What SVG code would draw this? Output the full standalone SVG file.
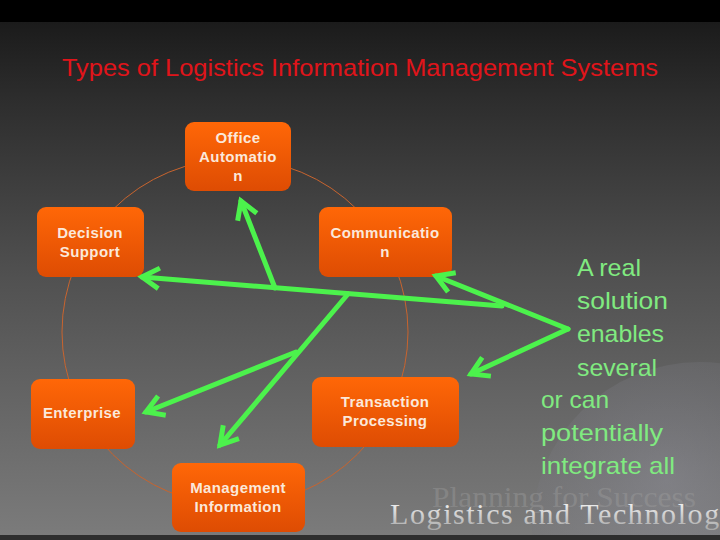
<svg xmlns="http://www.w3.org/2000/svg" width="720" height="540" viewBox="0 0 720 540">
<defs>
<linearGradient id="bg" x1="0" y1="22" x2="0" y2="535" gradientUnits="userSpaceOnUse">
<stop offset="0" stop-color="#1b1b1b"/>
<stop offset="0.15" stop-color="#2d2d2d"/>
<stop offset="0.5" stop-color="#515151"/>
<stop offset="1" stop-color="#7b7b7b"/>
</linearGradient>
<linearGradient id="box" x1="0" y1="0" x2="0" y2="1">
<stop offset="0" stop-color="#ff6707"/>
<stop offset="1" stop-color="#de4c03"/>
</linearGradient>
<radialGradient id="globe" cx="0.4" cy="0.35" r="0.7">
<stop offset="0" stop-color="#9898a6" stop-opacity="0.35"/>
<stop offset="0.6" stop-color="#76767c" stop-opacity="0.25"/>
<stop offset="1" stop-color="#505050" stop-opacity="0.3"/>
</radialGradient>
<linearGradient id="wm" x1="0" y1="0" x2="0" y2="1">
<stop offset="0" stop-color="#ffffff"/>
<stop offset="1" stop-color="#a8a8a8"/>
</linearGradient>
<marker id="ah" markerUnits="userSpaceOnUse" markerWidth="40" markerHeight="40" refX="0" refY="0" orient="auto" overflow="visible">
<path d="M-15,-9 L0,0 L-15,9" fill="none" stroke="#4cf24c" stroke-width="5" stroke-linejoin="miter" stroke-linecap="square"/>
</marker>
<style>
.node rect{fill:url(#box);}
.node text{font-family:"Liberation Sans",Arial,sans-serif;font-weight:bold;font-size:15px;fill:#fbe8da;text-anchor:middle;letter-spacing:0.4px;}
.conn path{fill:none;stroke:#4cf24c;stroke-width:5;stroke-linecap:round;marker-end:url(#ah);}
.note{font-family:"Liberation Sans",Arial,sans-serif;font-size:24px;fill:#80ea80;}
</style>
</defs>
<rect x="0" y="0" width="720" height="540" fill="url(#bg)"/>
<rect x="0" y="0" width="720" height="22" fill="#000"/>
<circle cx="700" cy="530" r="168" fill="url(#globe)"/>
<rect x="0" y="535" width="720" height="5" fill="#2e2e2e"/>

<text x="360" y="76" font-family="'Liberation Sans',Arial,sans-serif" font-size="24" fill="#e0141a" text-anchor="middle" textLength="596" lengthAdjust="spacingAndGlyphs">Types of Logistics Information Management Systems</text>

<circle cx="235" cy="332" r="173" fill="none" stroke="#c8642e" stroke-width="1"/>

<g id="office-automation" class="node"><rect x="185" y="122" width="106" height="69" rx="9"/><text x="238" y="143">Office</text><text x="238" y="162">Automatio</text><text x="238" y="181">n</text></g>
<g id="decision-support" class="node"><rect x="37" y="207" width="107" height="70" rx="9"/><text x="90" y="238">Decision</text><text x="90" y="257">Support</text></g>
<g id="communication" class="node"><rect x="319" y="207" width="133" height="70" rx="9"/><text x="385" y="238">Communicatio</text><text x="385" y="257">n</text></g>
<g id="enterprise" class="node"><rect x="31" y="379" width="104" height="70" rx="9"/><text x="82" y="418">Enterprise</text></g>
<g id="transaction-processing" class="node"><rect x="312" y="377" width="147" height="70" rx="9"/><text x="385" y="407">Transaction</text><text x="385" y="426">Processing</text></g>
<g id="management-information" class="node"><rect x="172" y="463" width="133" height="69" rx="9"/><text x="238" y="493">Management</text><text x="238" y="512">Information</text></g>

<g id="connectors" class="conn">
<path d="M502,306 L142,277"/>
<path d="M275,288 L241,201"/>
<path d="M348,294 L220,445"/>
<path d="M296,352 L146,412"/>
<path d="M568,329 L436,276"/>
<path d="M568,329 L471,374"/>
</g>

<g id="note">
<text class="note" x="577" y="276" textLength="64" lengthAdjust="spacingAndGlyphs">A real</text>
<text class="note" x="577" y="309" textLength="91" lengthAdjust="spacingAndGlyphs">solution</text>
<text class="note" x="577" y="342" textLength="87" lengthAdjust="spacingAndGlyphs">enables</text>
<text class="note" x="577" y="376" textLength="80" lengthAdjust="spacingAndGlyphs">several</text>
<text class="note" x="541" y="408" textLength="68" lengthAdjust="spacingAndGlyphs">or can</text>
<text class="note" x="541" y="441" textLength="122" lengthAdjust="spacingAndGlyphs">potentially</text>
<text class="note" x="541" y="474" textLength="134" lengthAdjust="spacingAndGlyphs">integrate all</text>
</g>

<text x="432" y="507" font-family="'Liberation Serif','Times New Roman',serif" font-size="30" fill="#a0a0a0" fill-opacity="0.4" textLength="264" lengthAdjust="spacingAndGlyphs">Planning for Success</text>
<text x="390" y="524" font-family="'Liberation Serif','Times New Roman',serif" font-size="30" letter-spacing="1.6" fill="url(#wm)">Logistics and Technolog</text>
</svg>
